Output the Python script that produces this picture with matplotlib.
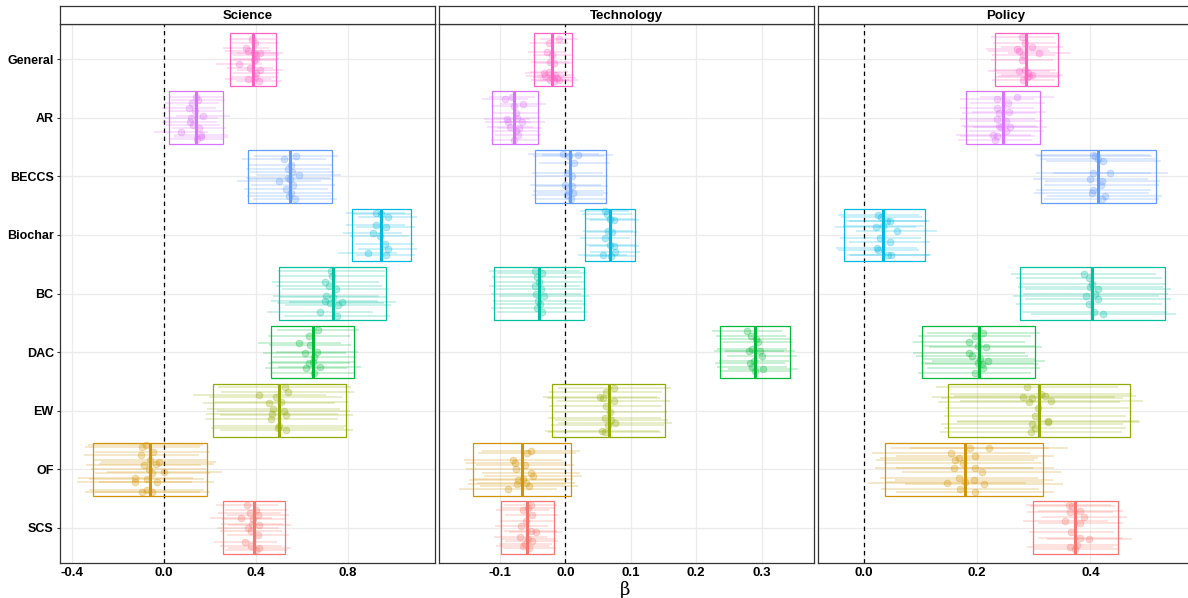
import matplotlib
matplotlib.use("Agg")
import matplotlib.pyplot as plt

# categories, top to bottom
CATS = ["General", "AR", "BECCS", "Biochar", "BC", "DAC", "EW", "OF", "SCS"]
FACETS = ["Science", "Technology", "Policy"]
COLORS = ["#FF61C3", "#DB72FB", "#619CFF", "#00B9E3", "#00C19F",
          "#00BA38", "#93AA00", "#D39200", "#F8766D"]

# mean estimate and box (lower / upper) per facet, in CATS order
SCI_MEAN = [0.389, 0.138, 0.549, 0.944, 0.733, 0.647, 0.499, -0.060, 0.392]
SCI_LO = [0.289, 0.021, 0.366, 0.817, 0.501, 0.466, 0.212, -0.310, 0.257]
SCI_HI = [0.489, 0.256, 0.731, 1.073, 0.964, 0.824, 0.789, 0.189, 0.528]

TEC_MEAN = [-0.020, -0.078, 0.007, 0.068, -0.040, 0.290, 0.066, -0.066, -0.058]
TEC_LO = [-0.048, -0.112, -0.047, 0.030, -0.109, 0.237, -0.021, -0.141, -0.099]
TEC_HI = [0.010, -0.042, 0.062, 0.106, 0.029, 0.344, 0.152, 0.009, -0.018]

POL_MEAN = [0.287, 0.246, 0.414, 0.035, 0.403, 0.203, 0.309, 0.178, 0.373]
POL_LO = [0.232, 0.180, 0.312, -0.035, 0.275, 0.103, 0.148, 0.038, 0.298]
POL_HI = [0.342, 0.311, 0.515, 0.108, 0.532, 0.302, 0.470, 0.317, 0.448]

# individual estimates: x values and vertical jitter (offset from category row)
SCI_PX = {
    "General": [0.383, 0.397, 0.356, 0.366, 0.393, 0.419, 0.401, 0.398, 0.328, 0.375, 0.419, 0.400, 0.366, 0.395, 0.412, 0.390],
    "AR": [0.140, 0.147, 0.123, 0.108, 0.133, 0.169, 0.118, 0.111, 0.125, 0.154, 0.075, 0.162, 0.162, 0.143],
    "BECCS": [0.575, 0.522, 0.551, 0.540, 0.555, 0.585, 0.538, 0.500, 0.548, 0.560, 0.530, 0.552, 0.545, 0.570],
    "Biochar": [0.920, 0.944, 0.973, 0.920, 0.963, 0.908, 0.937, 0.959, 0.973, 0.886, 0.963],
    "BC": [0.727, 0.731, 0.702, 0.717, 0.746, 0.705, 0.734, 0.698, 0.723, 0.756, 0.775, 0.679, 0.751],
    "DAC": [0.670, 0.630, 0.589, 0.636, 0.664, 0.611, 0.654, 0.647, 0.630, 0.676, 0.618, 0.650],
    "EW": [0.524, 0.538, 0.415, 0.485, 0.510, 0.456, 0.476, 0.520, 0.531, 0.470, 0.466, 0.502, 0.531, 0.495],
    "OF": [-0.080, -0.095, -0.049, -0.099, -0.060, -0.023, -0.089, -0.034, -0.066, -0.051, 0.002, -0.124, -0.075, -0.031, -0.128, -0.095, -0.075, -0.051],
    "SCS": [0.360, 0.401, 0.372, 0.408, 0.336, 0.389, 0.383, 0.415, 0.364, 0.379, 0.408, 0.354, 0.379, 0.415, 0.401],
}
SCI_PY = {
    "General": [-0.34, -0.27, -0.19, -0.14, -0.11, -0.11, -0.07, -0.01, 0.09, 0.15, 0.19, 0.23, 0.34, 0.30, 0.38, 0.02],
    "AR": [-0.36, -0.31, -0.25, -0.16, -0.12, -0.03, 0.01, 0.08, 0.12, 0.18, 0.25, 0.29, 0.33, 0.37],
    "BECCS": [-0.35, -0.30, -0.19, -0.12, -0.07, -0.02, 0.03, 0.08, 0.05, 0.15, 0.22, 0.28, 0.33, 0.38],
    "Biochar": [-0.38, -0.36, -0.30, -0.17, -0.13, -0.04, 0.02, 0.15, 0.24, 0.31, 0.35],
    "BC": [-0.39, -0.30, -0.19, -0.12, -0.08, 0.04, 0.06, 0.12, 0.16, 0.19, 0.15, 0.31, 0.39],
    "DAC": [-0.38, -0.28, -0.15, -0.12, -0.01, 0.02, 0.09, 0.17, 0.18, 0.26, 0.28, 0.35],
    "EW": [-0.40, -0.32, -0.26, -0.24, -0.15, -0.13, -0.03, 0.00, 0.08, 0.06, 0.15, 0.26, 0.33, 0.29],
    "OF": [-0.42, -0.38, -0.30, -0.24, -0.15, -0.13, -0.08, -0.09, -0.01, 0.06, 0.04, 0.15, 0.16, 0.22, 0.21, 0.38, 0.36, 0.38],
    "SCS": [-0.39, -0.31, -0.26, -0.22, -0.17, -0.15, -0.07, -0.05, 0.01, 0.05, 0.12, 0.24, 0.31, 0.35, 0.37],
}

TEC_PX = {
    "General": [-0.009, -0.025, -0.028, -0.020, -0.023, -0.018, -0.025, -0.033, -0.015, -0.031, -0.020, -0.013, -0.023, -0.010, -0.018],
    "AR": [-0.092, -0.082, -0.079, -0.065, -0.076, -0.089, -0.074, -0.087, -0.066, -0.070, -0.085, -0.076, -0.072, -0.079],
    "BECCS": [-0.003, 0.005, 0.019, 0.014, 0.003, 0.010, 0.000, 0.010, 0.005, 0.003, 0.011, 0.008],
    "Biochar": [0.060, 0.064, 0.075, 0.069, 0.065, 0.071, 0.061, 0.069, 0.074, 0.057, 0.076, 0.070],
    "BC": [-0.047, -0.036, -0.043, -0.040, -0.047, -0.037, -0.045, -0.033, -0.042, -0.038, -0.044, -0.035],
    "DAC": [0.277, 0.284, 0.291, 0.295, 0.285, 0.280, 0.298, 0.300, 0.289, 0.282, 0.285, 0.302, 0.290],
    "EW": [0.075, 0.062, 0.053, 0.058, 0.074, 0.062, 0.069, 0.060, 0.070, 0.076, 0.065, 0.056, 0.060],
    "OF": [-0.053, -0.058, -0.080, -0.077, -0.062, -0.076, -0.053, -0.050, -0.064, -0.072, -0.060, -0.074, -0.087, -0.056],
    "SCS": [-0.053, -0.057, -0.065, -0.051, -0.060, -0.067, -0.053, -0.045, -0.069, -0.057, -0.051, -0.061, -0.065, -0.055],
}
TEC_PY = {
    "General": [-0.34, -0.27, -0.12, -0.07, 0.05, 0.07, 0.22, 0.24, 0.27, 0.29, 0.31, 0.33, 0.36, 0.35, 0.37],
    "AR": [-0.32, -0.36, -0.20, -0.24, -0.08, 0.03, 0.01, 0.08, 0.08, 0.18, 0.15, 0.22, 0.29, 0.38],
    "BECCS": [-0.38, -0.35, -0.36, -0.22, -0.06, 0.00, 0.14, 0.17, 0.25, 0.32, 0.29, 0.38],
    "Biochar": [-0.41, -0.35, -0.26, -0.27, -0.07, -0.05, 0.06, 0.17, 0.19, 0.34, 0.30, 0.36],
    "BC": [-0.39, -0.35, -0.28, -0.20, -0.13, -0.08, 0.01, 0.05, 0.12, 0.18, 0.25, 0.31],
    "DAC": [-0.36, -0.28, -0.23, -0.17, -0.06, -0.02, -0.02, 0.06, 0.15, 0.18, 0.26, 0.29, 0.32],
    "EW": [-0.38, -0.32, -0.24, -0.21, -0.17, -0.08, 0.03, 0.13, 0.16, 0.21, 0.25, 0.34, 0.37],
    "OF": [-0.32, -0.28, -0.15, -0.11, -0.08, -0.01, 0.06, 0.11, 0.16, 0.19, 0.23, 0.26, 0.33, 0.29],
    "SCS": [-0.39, -0.34, -0.30, -0.22, -0.11, -0.04, 0.05, 0.07, 0.16, 0.19, 0.23, 0.27, 0.31, 0.35],
}

POL_PX = {
    "General": [0.280, 0.284, 0.270, 0.274, 0.297, 0.282, 0.309, 0.279, 0.285, 0.274, 0.290, 0.292, 0.297, 0.282, 0.288],
    "AR": [0.235, 0.270, 0.254, 0.235, 0.239, 0.256, 0.236, 0.251, 0.238, 0.242, 0.258, 0.252, 0.229, 0.236, 0.232],
    "BECCS": [0.404, 0.413, 0.423, 0.408, 0.435, 0.405, 0.400, 0.421, 0.419, 0.405, 0.402, 0.425, 0.420],
    "Biochar": [0.026, 0.031, 0.041, 0.046, 0.021, 0.035, 0.058, 0.029, 0.046, 0.023, 0.026, 0.048, 0.043],
    "BC": [0.388, 0.397, 0.403, 0.400, 0.413, 0.409, 0.392, 0.413, 0.397, 0.407, 0.423],
    "DAC": [0.211, 0.196, 0.186, 0.202, 0.215, 0.186, 0.191, 0.205, 0.220, 0.201, 0.208, 0.211, 0.196],
    "EW": [0.288, 0.313, 0.320, 0.297, 0.282, 0.292, 0.331, 0.307, 0.302, 0.326, 0.325, 0.297, 0.302, 0.295],
    "OF": [0.221, 0.188, 0.196, 0.154, 0.161, 0.168, 0.176, 0.160, 0.196, 0.208, 0.168, 0.178, 0.147, 0.213, 0.195, 0.170, 0.196],
    "SCS": [0.362, 0.368, 0.382, 0.364, 0.389, 0.356, 0.382, 0.366, 0.382, 0.398, 0.376, 0.364, 0.373],
}
POL_PY = {
    "General": [-0.37, -0.28, -0.18, -0.14, -0.20, -0.07, -0.10, 0.02, 0.18, 0.20, 0.23, 0.29, 0.27, 0.35, 0.31],
    "AR": [-0.32, -0.35, -0.26, -0.17, -0.08, -0.09, 0.03, 0.06, 0.14, 0.16, 0.16, 0.23, 0.29, 0.31, 0.38],
    "BECCS": [-0.37, -0.30, -0.26, -0.35, -0.06, -0.05, 0.04, 0.08, 0.14, 0.23, 0.28, 0.34, 0.38],
    "Biochar": [-0.34, -0.30, -0.23, -0.23, -0.13, -0.16, -0.07, 0.06, 0.12, 0.23, 0.25, 0.35, 0.34],
    "BC": [-0.33, -0.26, -0.16, -0.11, -0.08, 0.01, 0.04, 0.09, 0.18, 0.31, 0.35],
    "DAC": [-0.32, -0.28, -0.18, -0.11, -0.08, 0.01, 0.07, 0.11, 0.15, 0.18, 0.20, 0.28, 0.36],
    "EW": [-0.40, -0.28, -0.25, -0.21, -0.23, -0.14, -0.17, -0.05, 0.09, 0.19, 0.17, 0.23, 0.30, 0.37],
    "OF": [-0.36, -0.36, -0.23, -0.28, -0.15, -0.19, -0.11, -0.02, -0.02, 0.04, 0.15, 0.21, 0.23, 0.26, 0.19, 0.34, 0.38],
    "SCS": [-0.39, -0.38, -0.28, -0.27, -0.18, -0.11, -0.09, 0.07, 0.18, 0.19, 0.29, 0.33, 0.36],
}

XLIMS = [(-0.452, 1.178), (-0.193, 0.380), (-0.0805, 0.581)]
XTICKS = [[-0.4, 0.0, 0.4, 0.8], [-0.1, 0.0, 0.1, 0.2, 0.3], [0.0, 0.2, 0.4]]

plt.rcParams["font.family"] = ["Liberation Sans", "DejaVu Sans"]

W, H = 1188, 598
fig = plt.figure(figsize=(W / 100, H / 100), dpi=100)

panel_left = [60, 439, 818]
panel_w = 375
top_px, bot_px, strip_h = 24, 563, 19

data = [
    (SCI_MEAN, SCI_LO, SCI_HI, SCI_PX, SCI_PY),
    (TEC_MEAN, TEC_LO, TEC_HI, TEC_PX, TEC_PY),
    (POL_MEAN, POL_LO, POL_HI, POL_PX, POL_PY),
]

for k, facet in enumerate(FACETS):
    means, los, his, pxs, pys = data[k]
    l = panel_left[k] / W
    ax = fig.add_axes([l, (H - bot_px) / H, panel_w / W, (bot_px - top_px) / H])
    ax.set_xlim(*XLIMS[k])
    ax.set_ylim(len(CATS) + 0.6 - 1, 0.4 - 1)
    ax.set_xticks(XTICKS[k])
    ax.set_xticklabels([f"{t:.1f}" for t in XTICKS[k]], fontweight="bold",
                       fontsize=9.5)
    ax.set_yticks(range(len(CATS)))
    if k == 0:
        ax.set_yticklabels(CATS, fontweight="bold", fontsize=9)
        ax.tick_params(axis="y", length=2.5, width=0.8, color="#333333",
                       pad=2)
    else:
        ax.tick_params(axis="y", length=0, labelleft=False)
    ax.tick_params(axis="x", length=0, pad=3, labelcolor="black")
    ax.grid(True, color="#EBEBEB", lw=0.9, zorder=0)
    ax.set_axisbelow(True)
    for s in ax.spines.values():
        s.set_color("#333333"); s.set_linewidth(0.9)
    ax.axvline(0, color="black", lw=0.9, ls=(0, (3.5, 3)), zorder=1)

    for i, cat in enumerate(CATS):
        c = COLORS[i]
        hw = (his[i] - los[i]) / 2
        px = pxs[cat]
        py = [i + o for o in pys[cat]]
        ax.hlines(py, [x - hw for x in px], [x + hw for x in px],
                  color=c, lw=1.2, alpha=0.25, zorder=2)
        ax.scatter(px, py, s=24, color=c, alpha=0.3, linewidths=0.6,
                   edgecolors=c, zorder=3)
        ax.barh(i, his[i] - los[i], left=los[i], height=0.9, fill=False,
                edgecolor=c, lw=0.9, zorder=4)
        ax.vlines(means[i], i - 0.45, i + 0.45, color=c, lw=2.2, zorder=5)

    # facet strip
    sx = fig.add_axes([l, (H - top_px) / H, panel_w / W, (strip_h - 0.5) / H])
    sx.set_xticks([]); sx.set_yticks([])
    sx.set_facecolor("white")
    for s in sx.spines.values():
        s.set_color("#333333"); s.set_linewidth(0.9)
    sx.text(0.5, 0.45, facet, transform=sx.transAxes, ha="center",
            va="center", fontweight="bold", fontsize=9.5)

fig.text(625 / W, 1 - 590 / H, "β", ha="center", va="center",
         fontsize=13, family=["DejaVu Serif"])

fig.savefig("out.png", dpi=100)
